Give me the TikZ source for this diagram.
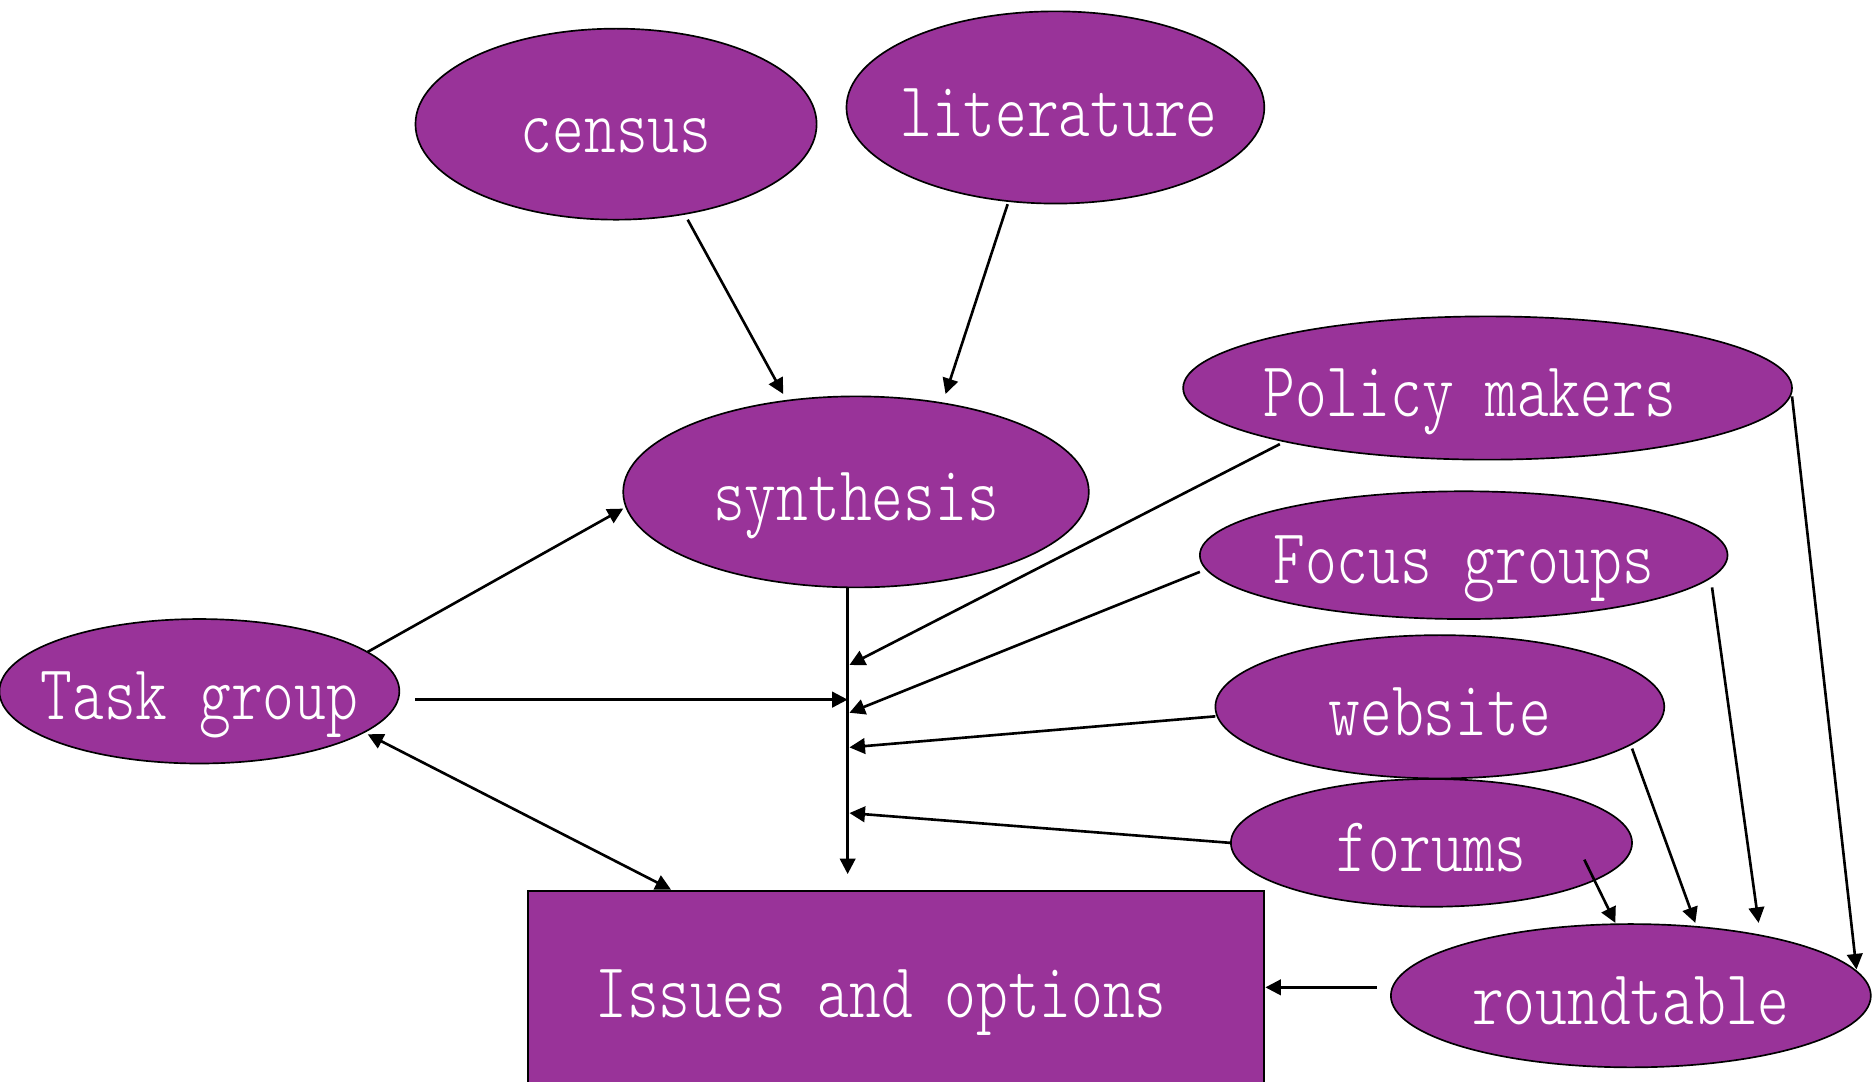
\documentclass[tikz,border=0pt]{standalone}
\usetikzlibrary{shapes.geometric,arrows.meta,calc}
\definecolor{pp}{RGB}{153,51,153}
\newcommand{\lbl}[1]{\makebox[0pt]{\scalebox{0.773}[1]{#1}}}
\begin{document}
\begin{tikzpicture}[x=1pt,y=1pt,
  txt/.style={text=white,font=\ttfamily\fontseries{l}\fontsize{65.5}{70}\selectfont,inner sep=0pt},
  oval/.style={ellipse,txt,draw=black,line width=1.4pt,fill=pp,text height=48pt,text depth=0pt},
  box/.style={rectangle,txt,draw=black,line width=1.8pt,fill=pp,text height=38pt,text depth=0pt},
  conn/.style={line width=2.2pt,-{Triangle[length=13pt,width=13pt]}},
  conn2/.style={line width=2.2pt,{Triangle[length=13pt,width=13pt]}-{Triangle[length=13pt,width=13pt]}},
]
\useasboundingbox (0,0) rectangle (1568,-906);
\clip (0,0) rectangle (1568,-906);
\fill[white] (0,0) rectangle (1568,-906);

\node[box,minimum width=617,minimum height=174] (issues) at (750.5,-833) {\makebox[0pt]{\scalebox{0.773}[1]{Issues and options}\hspace*{25pt}}};

\node[oval,minimum width=336,minimum height=160] (census) at (516,-104) {\lbl{census}};
\node[oval,minimum width=350,minimum height=161] (literature) at (884,-90) {\makebox[0pt]{\hspace*{6pt}\scalebox{0.773}[1]{literature}}};
\node[oval,minimum width=390,minimum height=160] (synthesis) at (717,-412) {\lbl{synthesis}};
\node[oval,minimum width=510,minimum height=120] (policy) at (1246,-325) {\makebox[0pt]{\scalebox{0.773}[1]{Policy makers}\hspace*{30pt}}};
\node[oval,minimum width=442,minimum height=107] (focus) at (1226,-465) {\lbl{Focus groups}};
\node[oval,minimum width=376,minimum height=120] (website) at (1206,-592) {\lbl{website}};
\node[oval,minimum width=336,minimum height=107] (forums) at (1199,-706) {\lbl{forums}};
\node[oval,minimum width=335,minimum height=121] (task) at (167,-579) {\lbl{Task group}};
\node[oval,minimum width=402,minimum height=120] (round) at (1366,-834) {\lbl{roundtable}};

% bus points on the vertical line
\coordinate (bend) at ($(issues.north)+(-40.5,13)$);
\coordinate (btask) at (710,-586);
\coordinate (bpol) at (711.5,-557);
\coordinate (bfoc) at (711.5,-597);
\coordinate (bweb) at (711.5,-626);
\coordinate (bfor) at (711.5,-681);

\draw[conn] ($(census.center)+(60,-80)$) -- ($(synthesis.center)+(-61,82)$);
\draw[conn] ($(literature.center)+(-40,-81)$) -- ($(synthesis.center)+(75,82)$);
\draw[conn] ($(task.center)+(141,33)$) -- ($(synthesis.center)+(-195,-14)$);
\draw[conn] ($(synthesis.center)+(-7,-80)$) -- (bend);
\draw[conn] ($(task.center)+(181,-7)$) -- (btask);
\draw[conn] ($(policy.center)+(-174,-47)$) -- (bpol);
\draw[conn] ($(focus.center)+(-221,-14)$) -- (bfoc);
\draw[conn] ($(website.center)+(-188,-8)$) -- (bweb);
\draw[conn] ($(forums.center)+(-168,0)$) -- (bfor);
\draw[conn2] ($(task.center)+(141,-36)$) -- ($(issues.north)+(-188.5,0)$);
\draw[conn] ($(round.center)+(-213,7)$) -- ($(issues.east)+(0,6)$);
\draw[conn] ($(forums.center)+(128,-14)$) -- ($(round.center)+(-13,61)$);
\draw[conn] ($(website.center)+(161,-35)$) -- ($(round.center)+(54,61)$);
\draw[conn] ($(focus.center)+(208,-27)$) -- ($(round.center)+(107,61)$);
\draw[conn] ($(policy.center)+(255,-7)$) -- ($(round.center)+(189,22)$);
\end{tikzpicture}
\end{document}
